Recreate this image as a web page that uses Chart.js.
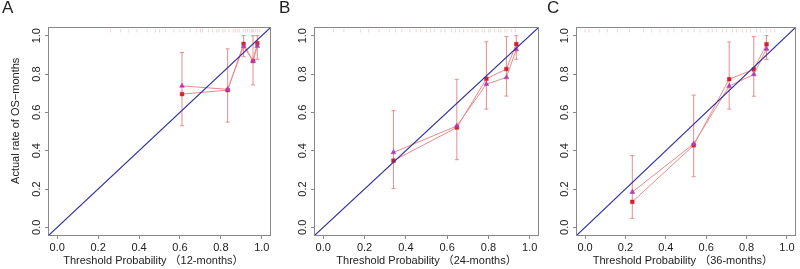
<!DOCTYPE html>
<html lang="en">
<head>
<meta charset="UTF-8">
<title>Calibration curves</title>
<script src="https://cdn.jsdelivr.net/npm/chart.js"></script>
<style>
  body { margin: 0; background: #fff; }
  .wrap { position: relative; width: 800px; height: 269px; overflow: hidden; }
  .wrap canvas { position: absolute; top: 0; }
  .tag { position: absolute; top: -1px; font: 17px "Liberation Sans", Arial, sans-serif; line-height: 17px; color: #222; }
</style>
</head>
<body>
<div class="wrap">
  <canvas id="chartA" width="275" height="269" style="left:0px"></canvas>
  <canvas id="chartB" width="268" height="269" style="left:275px"></canvas>
  <canvas id="chartC" width="257" height="269" style="left:543px"></canvas>
  <div class="tag" style="left:2px">A</div>
  <div class="tag" style="left:279px">B</div>
  <div class="tag" style="left:547px">C</div>
</div>
<script>
// axis ticks shared by all panels
const tickValues = [0, 0.2, 0.4, 0.6, 0.8, 1.0];
const tickLabels = ['0.0', '0.2', '0.4', '0.6', '0.8', '1.0'];
const axisMin = -0.04, axisMax = 1.04;
const idealLine = [axisMin, axisMax];

// A: 12 months
const xA    = [0.610, 0.833, 0.911, 0.957, 0.978];
const obsA  = [0.695, 0.716, 0.957, 0.868, 0.960];
const corrA = [0.738, 0.720, 0.944, 0.868, 0.946];
const loA   = [0.530, 0.549, 0.890, 0.743, 0.877];
const hiA   = [0.912, 0.931, 1.000, 1.000, 1.000];
const rugA  = [0.26, 0.31, 0.35, 0.39, 0.44, 0.48, 0.50, 0.53, 0.57, 0.60, 0.62, 0.65, 0.68, 0.70,
               0.71, 0.74, 0.76, 0.78, 0.79, 0.81, 0.82, 0.84, 0.86, 0.87, 0.88, 0.89, 0.91, 0.92,
               0.93, 0.94, 0.95, 0.955, 0.96, 0.97, 0.98, 0.99];

// B: 24 months
const xB    = [0.340, 0.647, 0.790, 0.887, 0.935];
const obsB  = [0.348, 0.521, 0.775, 0.826, 0.956];
const corrB = [0.391, 0.529, 0.747, 0.782, 0.928];
const loB   = [0.202, 0.353, 0.617, 0.685, 0.877];
const hiB   = [0.609, 0.772, 0.968, 0.996, 1.000];
const rugB  = [0.05, 0.10, 0.18, 0.22, 0.27, 0.32, 0.35, 0.38, 0.42, 0.45, 0.47, 0.50, 0.52, 0.54,
               0.57, 0.59, 0.62, 0.64, 0.66, 0.68, 0.70, 0.72, 0.74, 0.75, 0.77, 0.78, 0.80, 0.81,
               0.83, 0.85, 0.86, 0.88, 0.89, 0.91, 0.93];

// C: 36 months
const xC    = [0.234, 0.538, 0.714, 0.836, 0.899];
const obsC  = [0.133, 0.428, 0.773, 0.824, 0.955];
const corrC = [0.184, 0.436, 0.737, 0.798, 0.931];
const loC   = [0.047, 0.264, 0.617, 0.684, 0.876];
const hiC   = [0.374, 0.690, 0.967, 0.995, 1.000];
const rugC  = [0.00, 0.02, 0.07, 0.11, 0.16, 0.22, 0.29, 0.33, 0.37, 0.41, 0.44, 0.48, 0.51, 0.54,
               0.57, 0.61, 0.63, 0.65, 0.68, 0.70, 0.73, 0.75, 0.78, 0.80, 0.82, 0.85, 0.87, 0.90,
               0.92, 0.94];

const FONT = '"Liberation Sans", Arial, "Noto Sans CJK SC", sans-serif';
const TEXT = '#222';
const AXIS = '#888';
const PINK = '#ea8a8a';

// R-style closed box around the plot region
const frame = {
    id: 'frame',
    afterDraw(chart) {
        const a = chart.chartArea;
        const ctx = chart.ctx;
        ctx.save();
        ctx.strokeStyle = AXIS;
        ctx.lineWidth = 1;
        ctx.strokeRect(a.left - 0.5, a.top - 0.5, a.width + 1, a.height + 1);
        ctx.restore();
    }
};

function pts(xs, ys) {
    return xs.map((x, i) => ({ x: x, y: ys[i] }));
}

function makePanel(id, p) {
    const bars = [];
    p.x.forEach((x, i) => {
        bars.push({ x: x, y: p.lo[i] }, { x: x, y: p.hi[i] }, { x: x, y: null });
    });

    const axisTicks = s => { s.ticks = tickValues.map(v => ({ value: v })); };

    new Chart(document.getElementById(id), {
        type: 'line',
        data: {
            datasets: [
                {   // y = x reference
                    data: pts(idealLine, idealLine),
                    borderColor: '#2f2f9f', borderWidth: 1.2, pointRadius: 0, order: 1
                },
                {   // triangles
                    data: pts(p.x, p.corr),
                    borderColor: PINK, borderWidth: 1,
                    pointStyle: 'triangle', pointRadius: 2.8,
                    pointBackgroundColor: '#b23cb0', pointBorderColor: '#b23cb0', pointBorderWidth: 0.5,
                    order: 2
                },
                {   // observed
                    data: pts(p.x, p.obs),
                    borderColor: PINK, borderWidth: 1,
                    pointStyle: 'rect', pointRadius: 2.6,
                    pointBackgroundColor: '#d0202c', pointBorderColor: '#d0202c', pointBorderWidth: 0.5,
                    order: 3
                },
                {   // error bars
                    data: bars, spanGaps: false,
                    borderColor: PINK, borderWidth: 1,
                    pointStyle: 'line', pointRadius: 2, pointBorderColor: PINK, pointBorderWidth: 1,
                    order: 4
                },
                {   // rug of predictions at the top
                    data: p.rug.map(v => ({ x: v, y: 1.026 })),
                    showLine: false,
                    pointStyle: 'line', pointRotation: 90, pointRadius: 1.8,
                    pointBorderColor: 'rgba(232,150,150,0.4)', pointBorderWidth: 1,
                    order: 5
                }
            ]
        },
        options: {
            responsive: false,
            animation: false,
            events: [],
            layout: { padding: { top: 28, right: p.right, bottom: 0, left: 0 } },
            plugins: { legend: { display: false }, tooltip: { enabled: false } },
            scales: {
                x: {
                    type: 'linear', min: axisMin, max: axisMax,
                    afterBuildTicks: axisTicks,
                    afterFit: s => { s.height = 34; },
                    ticks: {
                        callback: (v, i) => tickLabels[i],
                        autoSkip: false, maxRotation: 0,
                        padding: 2, color: TEXT, font: { family: FONT, size: 11 }
                    },
                    grid: { drawOnChartArea: false, drawTicks: true, tickLength: 4, color: AXIS },
                    border: { display: false },
                    title: {
                        display: true, text: p.xTitle, color: TEXT,
                        font: { family: FONT, size: 11 }, padding: { top: 0, bottom: 1 }
                    }
                },
                y: {
                    type: 'linear', min: axisMin, max: axisMax,
                    afterBuildTicks: axisTicks,
                    afterFit: s => { s.width = p.yWidth; },
                    ticks: {
                        callback: (v, i) => tickLabels[i],
                        autoSkip: false, minRotation: 90, maxRotation: 90, crossAlign: 'center',
                        padding: 0, color: TEXT, font: { family: FONT, size: 11 }
                    },
                    grid: { drawOnChartArea: false, drawTicks: true, tickLength: 4, color: AXIS },
                    border: { display: false },
                    title: {
                        display: !!p.yTitle, text: p.yTitle || '', color: TEXT,
                        font: { family: FONT, size: 11 }, padding: { top: 9, bottom: 0 }
                    }
                }
            }
        },
        plugins: [frame]
    });
}

// leading/trailing spaces nudge the titles off-centre as in the original figure
makePanel('chartA', {
    x: xA, obs: obsA, corr: corrA, lo: loA, hi: hiA, rug: rugA,
    xTitle: 'Threshold Probability （12-months）    ', yTitle: '       Actual rate of OS\u2212months',
    yWidth: 49, right: 4
});
makePanel('chartB', {
    x: xB, obs: obsB, corr: corrB, lo: loB, hi: hiB, rug: rugB,
    xTitle: 'Threshold Probability （24-months）', yTitle: null,
    yWidth: 40, right: 4
});
makePanel('chartC', {
    x: xC, obs: obsC, corr: corrC, lo: loC, hi: hiC, rug: rugC,
    xTitle: 'Threshold Probability （36-months）  ', yTitle: null,
    yWidth: 34, right: 2
});
</script>
</body>
</html>
